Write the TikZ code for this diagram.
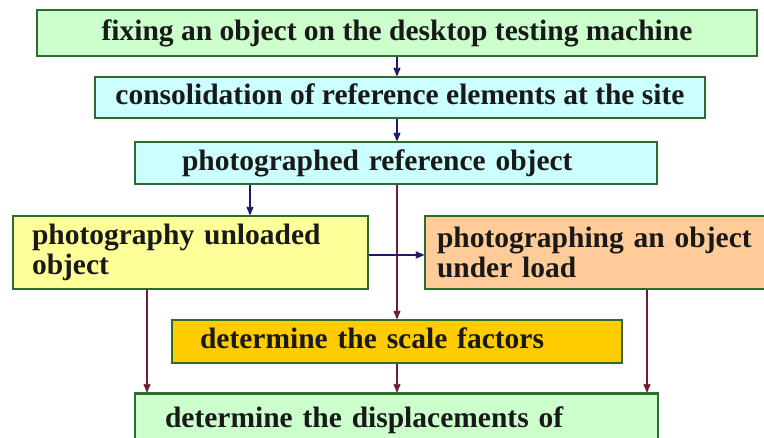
\documentclass[tikz,border=0pt]{standalone}
\usepackage{xcolor}
\usepackage{fontspec}
\setmainfont{Liberation Serif}
\usepackage{tikz}
\usetikzlibrary{shapes,arrows,arrows.meta}
\usetikzlibrary{positioning}
\definecolor{boxline}{HTML}{2F6A2F}
\definecolor{lgreen}{HTML}{CCFFCC}
\definecolor{lcyan}{HTML}{CCFFFF}
\definecolor{lyellow}{HTML}{FFFF99}
\definecolor{peach}{HTML}{FFCC99}
\definecolor{gold}{HTML}{FFCC00}
\definecolor{navyline}{HTML}{1B1B66}
\definecolor{redline}{HTML}{6E1C3C}

\begin{document}
\begin{tikzpicture}[x=1pt,y=-1pt]

\tikzset{>=stealth'}
\tikzstyle{box} = [
	draw=boxline, line width=2.6pt, rectangle, inner ysep=0pt,
	text=black!90, font=\bfseries\fontsize{29.5}{30}\selectfont,
	text height=21pt, text depth=6pt ];
\tikzstyle{navy} = [draw=navyline, line width=1.8pt, ->];
\tikzstyle{red} = [draw=redline, line width=1.8pt, ->];

\useasboundingbox[fill=white] (0,0) rectangle (764,438);

\node[box,fill=lgreen,minimum width=720pt,minimum height=46pt,align=center] (b1) at (397,33) {fixing an object on the desktop testing machine};
\node[box,fill=lcyan,minimum width=610pt,minimum height=41pt,align=center] (b2) at (400,97.5) {consolidation of reference elements at the site};
\node[box,fill=lcyan,text width=428pt,inner xsep=47pt,minimum height=42pt,align=left] (b3) at (396,163) {photographed reference object};
\node[box,fill=lyellow,text width=317pt,inner xsep=19pt,minimum height=73pt,align=left,text height=,text depth=] (b4) at (190.5,252.5) {photography unloaded\\object};
\node[box,fill=peach,text width=351pt,inner xsep=12pt,minimum height=73pt,align=left,text height=,text depth=] (b5) at (612.5,252.5) {photographing an object\\under load};
\node[box,fill=gold,text width=394pt,inner xsep=28pt,minimum height=43pt,align=left] (b6) at (397,341.5) {determine the scale factors};
\node[box,fill=lgreen,text width=463pt,inner xsep=30pt,inner ysep=13pt,anchor=north,align=left] (b7) at (396.5,392) {determine the displacements of};

\draw[navy] (b1.south) -- (b1.south |- b2.north);
\draw[navy] (b1.south |- b2.south) -- (b1.south |- b3.north);
\draw[navy] ([xshift=59.5pt]b4.north |- b3.south) -- ([xshift=59.5pt]b4.north);
\draw[red] (b6.north |- b3.south) -- (b6.north);
\draw[navy] ([yshift=-2.5pt]b4.east) -- ([yshift=-2.5pt]b4.east -| b5.west);
\draw[red] ([xshift=-43.5pt]b4.south) -- ([xshift=-43.5pt]b4.south |- b7.north);
\draw[red] (b6.south) -- (b6.south |- b7.north);
\draw[red] ([xshift=34.5pt]b5.south) -- ([xshift=34.5pt]b5.south |- b7.north);

\end{tikzpicture}
\end{document}
